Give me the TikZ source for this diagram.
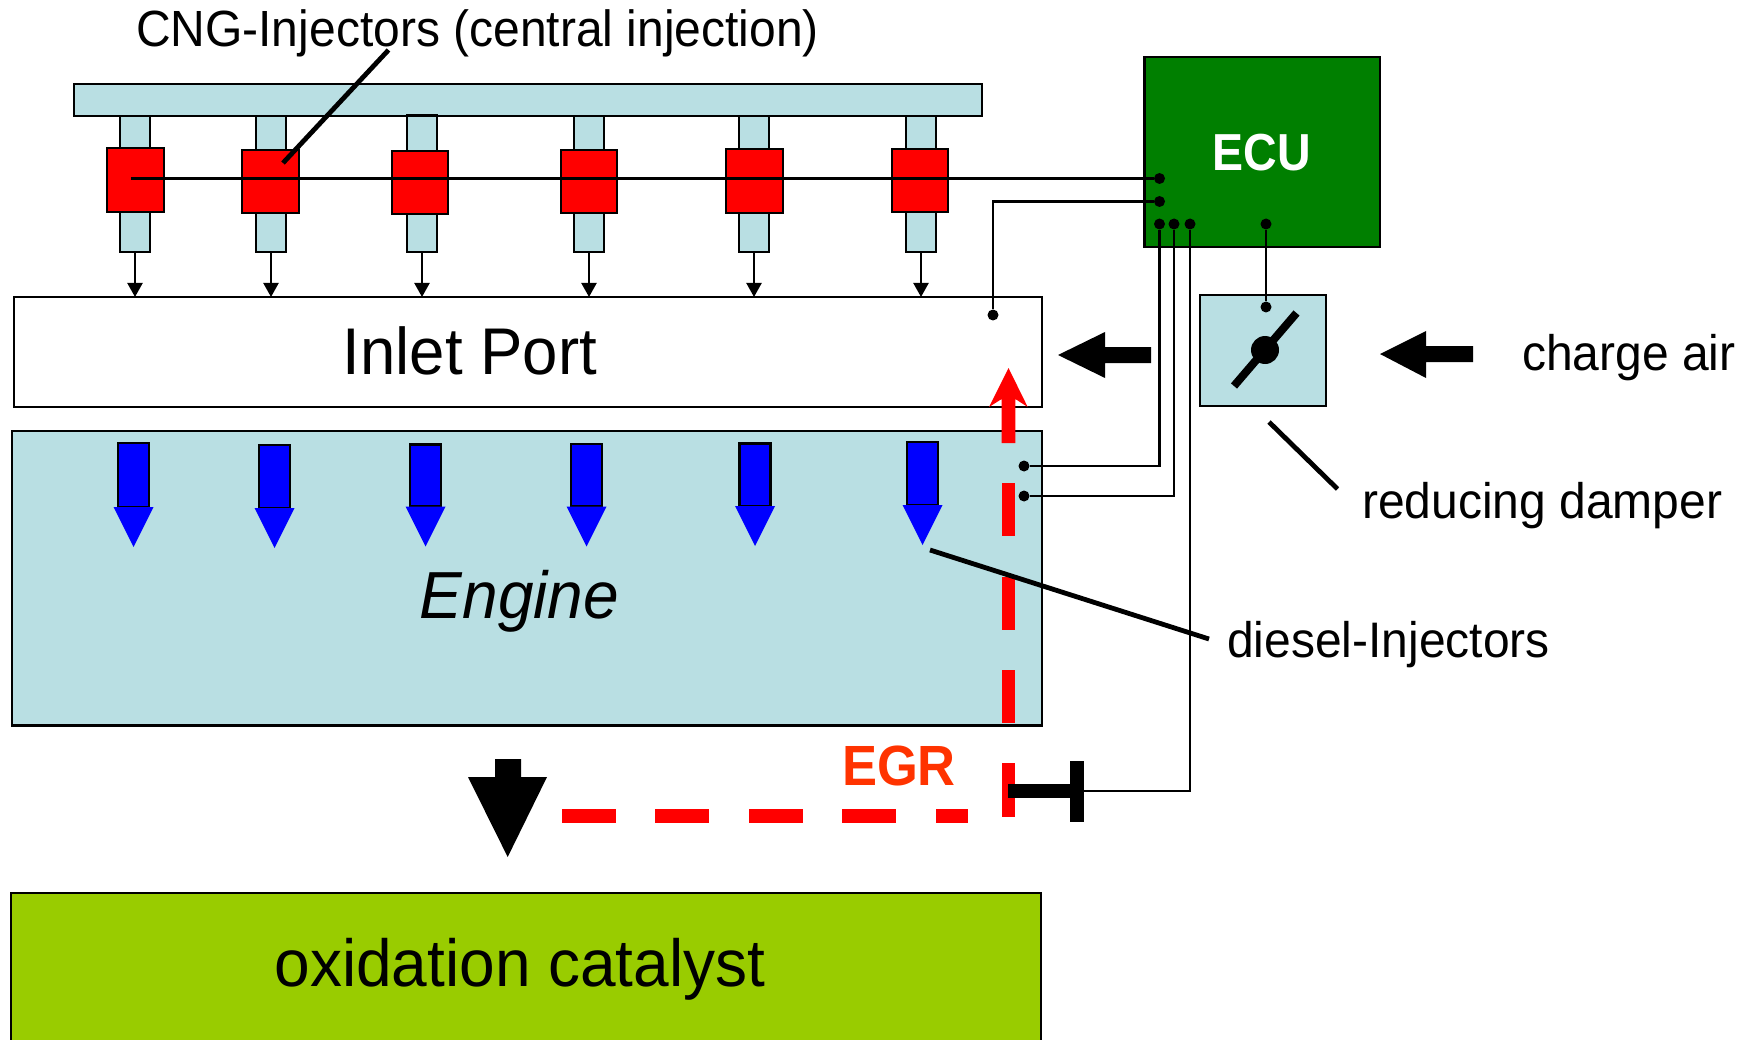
\documentclass[tikz,border=0pt]{standalone}
\usepackage{graphicx}
\usepackage{fontspec}
\setmainfont{Liberation Sans}
\usetikzlibrary{arrows.meta,calc}
\definecolor{paleblue}{HTML}{B9DFE3}
\definecolor{ecugreen}{HTML}{007F00}
\definecolor{catgreen}{HTML}{99CC00}
\definecolor{egrorange}{HTML}{FF3300}
\newcommand{\boxat}[6][]{\node[boxst,#1,minimum width={((#5)-(#3))*1pt},minimum height={((#6)-(#4))*1pt}] (#2) at ({((#3)+(#5))/2},{((#4)+(#6))/2}) {};}
\newcommand{\blueshaft}[3]{%
  \fill[blue,draw=black,line width=2.4pt] ({#1-15.5},#2) rectangle ({#1+15.5},{#3-40});
  \fill[blue] ({#1-20},{#3-40}) -- ({#1+20},{#3-40}) -- (#1,#3) -- cycle;}
\newcommand{\injector}[8]{%
  % id, stub centre, red x1, red x2, red y1, red y2, upper y1, lower y2
  \boxat[fill=paleblue]{up#1}{#2-15}{#7}{#2+15}{#5}
  \boxat[fill=paleblue]{lo#1}{#2-15}{#6}{#2+15}{#8}
  \boxat[fill=red]{inj#1}{#3}{#5}{#4}{#6}
  \draw[smallarrow] (lo#1.south) -- (lo#1.south |- port.north);}
\newcommand{\tall}[2]{\scalebox{1}[#1]{#2}}
\tikzset{
  boxst/.style={draw=black,line width=2.2pt,inner sep=0pt,outer sep=0pt},
  wire/.style={line width=2.4pt,draw=black},
  bus/.style={line width=3pt,draw=black},
  leader/.style={line width=4.8pt,draw=black},
  smallarrow/.style={line width=2.2pt,-{Triangle[length=14pt,width=15pt]}},
  dotst/.style={circle,fill=black,inner sep=0pt,minimum size=11pt},
  egrline/.style={line width=13.6pt,draw=red},
  lbl/.style={anchor=base west,inner sep=0pt,outer sep=0pt,font=\fontsize{48}{58}\selectfont},
  big/.style={anchor=base,inner sep=0pt,outer sep=0pt,font=\fontsize{63.5}{76}\selectfont},
}
\begin{document}
\begin{tikzpicture}[x=1pt,y=-1pt]
\useasboundingbox (0,0) rectangle (1755,1040);
\clip (0,0) rectangle (1755,1040);
% main boxes
\boxat[fill=white]{port}{14}{297}{1042}{407}
\boxat[fill=paleblue]{engine}{12}{431}{1042}{725.5}
\boxat[fill=catgreen]{cat}{11}{893}{1041}{1050}
\boxat[fill=paleblue]{rail}{74}{84}{982}{116}
\boxat[fill=ecugreen]{ecu}{1144.5}{57}{1380}{247}
\boxat[fill=paleblue]{damper}{1200}{295}{1326}{406}
% injectors
\injector{1}{135}{107}{164}{148}{212}{116}{252}
\injector{2}{271}{242}{299}{150}{213}{116}{252}
\injector{3}{422}{392}{448}{151}{214}{115.5}{252}
\injector{4}{589}{561}{617}{150}{213}{116}{252}
\injector{5}{754}{726}{783}{149}{213}{116}{252}
\injector{6}{921}{892}{948}{149}{212}{116}{252}
% texts
\node[big] (portlabel) at (470,374) {\tall{1.04}{Inlet Port}};
\node[big,font=\fontsize{64}{76}\selectfont] (enginelabel) at (519.5,618) {\tall{1.04}{\itshape Engine}};
\node[big,font=\fontsize{64}{76}\selectfont] (catlabel) at (520,986) {\tall{1.04}{oxidation catalyst}};
\node[anchor=base,inner sep=0pt,text=white,font=\bfseries\fontsize{46.5}{55}\selectfont] (ecutext) at (1262,170.5) {\tall{1.12}{ECU}};
\node[anchor=base,inner sep=0pt,text=egrorange,font=\bfseries\fontsize{52.5}{62}\selectfont] (egrtext) at (899,785) {\tall{1.08}{EGR}};
\node[lbl] (cnglabel) at (136,47) {\tall{1.06}{CNG-Injectors (central injection)}};
\node[lbl] (airlabel) at (1522,370.5) {\tall{1.04}{charge air}};
\node[lbl] (damplabel) at (1362,518) {\tall{1.04}{reducing damper}};
\node[lbl] (diesellabel) at (1227,657) {\tall{1.04}{diesel-Injectors}};
% dots
\node[dotst] (e1) at (1159.5,178.5) {};
\node[dotst] (e2) at (1159.5,201.5) {};
\node[dotst] (e3) at (1159.5,224) {};
\node[dotst] (e4) at (1174,224) {};
\node[dotst] (e5) at (1190,224) {};
\node[dotst] (e6) at (1266,224) {};
\node[dotst] (pdot) at (993,315) {};
\node[dotst] (ddot) at (1266,307) {};
\node[dotst] (g1) at (1024,466) {};
\node[dotst] (g2) at (1024,496) {};
\coordinate (busstart) at (131,178.5);
\coordinate (tend) at (1084,791);
% wires
\draw[bus] (busstart) -- (e1);
\draw[wire] (e2) -| (pdot);
\draw[wire] (e3) |- (g1);
\draw[wire] (e4) |- (g2);
\draw[wire] (e5) |- (tend);
\draw[wire] (e6) -- (ddot);
% blue diesel injector arrows
\blueshaft{133.5}{443}{547}
\blueshaft{274.5}{445}{548}
\blueshaft{425.5}{444.5}{546.5}
\blueshaft{586.5}{444}{546.5}
\blueshaft{755}{443.5}{546}
\blueshaft{922.5}{442}{545}
% EGR path
\fill[red] (1001.7,443) -- (1001.7,399) -- (989,407) -- (1008.5,368) -- (1027.7,407) -- (1015.3,399) -- (1015.3,443) -- cycle;
\draw[egrline] (1008.5,483) -- (1008.5,536);
\draw[egrline] (1008.5,577) -- (1008.5,630);
\draw[egrline] (1008.5,670) -- (1008.5,723);
\draw[egrline] (1008.5,763) -- (1008.5,817);
\draw[egrline] (562,816) -- (616,816);
\draw[egrline] (655,816) -- (709,816);
\draw[egrline] (749,816) -- (803,816);
\draw[egrline] (842,816) -- (896,816);
\draw[egrline] (936,816) -- (968,816);
% T-bar
\fill[black] (1008,784) rectangle (1072,798);
\fill[black] (1070,761) rectangle (1084,822);
% damper blade
\draw[line width=8pt] (1234,386) -- (1296.5,313);
\fill[black] (1265,350) circle (14);
% leaders
\draw[leader] (388.5,50) -- (283,163);
\draw[leader] (1269,422) -- (1337.5,489);
\draw[leader] (930,550) -- (1209,639);
% black flow arrows
\fill[black] (1058,355) -- (1105,332) -- (1105,347) -- (1151,347) -- (1151,363) -- (1105,363) -- (1105,378) -- cycle;
\fill[black] (1380,354) -- (1426,331) -- (1426,346) -- (1473,346) -- (1473,362) -- (1426,362) -- (1426,378) -- cycle;
\fill[black] (495,759) -- (521,759) -- (521,777) -- (547,777) -- (507.7,857) -- (468,777) -- (495,777) -- cycle;
\end{tikzpicture}
\end{document}
